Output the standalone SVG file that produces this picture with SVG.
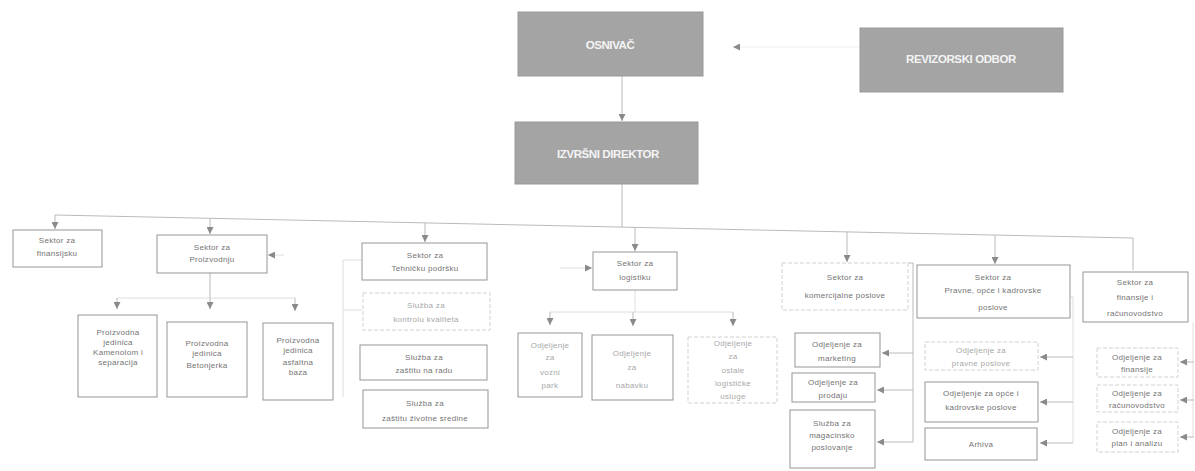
<svg xmlns="http://www.w3.org/2000/svg" width="1195" height="471" viewBox="0 0 1195 471">
<style>
.top{fill:#a4a4a4;stroke:#999999;stroke-width:1}
.tt{fill:#f4f4f4;font-family:"Liberation Sans",Arial,sans-serif;font-size:11.5px;font-weight:bold;text-anchor:middle;letter-spacing:-0.4px}
.box{fill:#ffffff;stroke:#959595;stroke-width:1}
.fbox{fill:#ffffff;stroke:#d2d2d2;stroke-width:1;stroke-dasharray:4 2}
.t{fill:#747474;font-family:"Liberation Sans",Arial,sans-serif;font-size:8px;text-anchor:middle;letter-spacing:0.3px}
.ft{fill:#a8a8a8;font-family:"Liberation Sans",Arial,sans-serif;font-size:8px;text-anchor:middle;letter-spacing:0.3px}
.c{fill:none;stroke:#bababa;stroke-width:1}
.cf{fill:none;stroke:#dedede;stroke-width:1}
.cx{fill:none;stroke:#f0f0f0;stroke-width:1}
</style>
<defs>
<marker id="a" viewBox="0 0 10 10" refX="10" refY="5" markerWidth="7" markerHeight="7" markerUnits="userSpaceOnUse" orient="auto">
<path d="M0,0 L10,5 L0,10 z" fill="#8a8a8a"/>
</marker>
</defs>
<rect width="1195" height="471" fill="#ffffff"/>
<g id="connectors">
<path class="cx" d="M860,47 L733,47" marker-end="url(#a)"/>
<path class="c" d="M622,76 L622,121" marker-end="url(#a)"/>
<path class="c" d="M622,184 L622,227"/>
<path class="c" d="M55,215 L1133,238 L1133,270"/>
<path class="c" d="M55,215 L55,229" marker-end="url(#a)"/>
<path class="c" d="M210,218.3 L210,234" marker-end="url(#a)"/>
<path class="c" d="M425,222.9 L425,242" marker-end="url(#a)"/>
<path class="c" d="M635,227.4 L635,251" marker-end="url(#a)"/>
<path class="c" d="M847,231.9 L847,262" marker-end="url(#a)"/>
<path class="c" d="M995,235.1 L995,264" marker-end="url(#a)"/>
<path class="cf" d="M284,255 L268,255" marker-end="url(#a)"/>
<path class="c" d="M210,273 L210,298"/>
<path class="cf" d="M117,298 L295,298"/>
<path class="c" d="M117,298 L117,309" marker-end="url(#a)"/>
<path class="c" d="M210,298 L210,309" marker-end="url(#a)"/>
<path class="c" d="M295,298 L295,311" marker-end="url(#a)"/>
<path class="cf" d="M362,260 L343,260 L343,397 M343,310 L362,310"/>
<path class="cf" d="M560,268 L592,268" marker-end="url(#a)"/>
<path class="cf" d="M635,290 L635,312 M550,312 L733,312"/>
<path class="c" d="M550,312 L550,325" marker-end="url(#a)"/>
<path class="c" d="M633,312 L633,326" marker-end="url(#a)"/>
<path class="c" d="M733,312 L733,326" marker-end="url(#a)"/>
<path class="c" d="M908,263 L913,263 L913,442"/>
<path class="c" d="M913,353 L882,353" marker-end="url(#a)"/>
<path class="c" d="M913,390 L877,390" marker-end="url(#a)"/>
<path class="c" d="M913,442 L877,442" marker-end="url(#a)"/>
<path class="cf" d="M1070,297 L1073,297 L1073,443"/>
<path class="c" d="M1073,357 L1040,357" marker-end="url(#a)"/>
<path class="c" d="M1073,402 L1040,402" marker-end="url(#a)"/>
<path class="c" d="M1073,443 L1040,443" marker-end="url(#a)"/>
<path class="cf" d="M1193,322 L1193,437"/>
<path class="c" d="M1194,362 L1180,362" marker-end="url(#a)"/>
<path class="c" d="M1194,400 L1180,400" marker-end="url(#a)"/>
<path class="c" d="M1194,437 L1180,437" marker-end="url(#a)"/>
</g>
<g id="osnivac"><rect class="top" x="518" y="12" width="185" height="64"/><text class="tt" x="610" y="49">OSNIVAČ</text></g>
<g id="revizorski-odbor"><rect class="top" x="860" y="28" width="203" height="64"/><text class="tt" x="961" y="63">REVIZORSKI ODBOR</text></g>
<g id="izvrsni-direktor"><rect class="top" x="515" y="122" width="183" height="62"/><text class="tt" x="608" y="158">IZVRŠNI DIREKTOR</text></g>

<g id="s-finansijsku"><rect class="box" x="13" y="230" width="89" height="37"/><text class="t"><tspan x="57" y="243">Sektor za</tspan><tspan x="57" y="256">finansijsku</tspan></text></g>
<g id="s-proizvodnju"><rect class="box" x="157" y="235" width="110" height="38"/><text class="t"><tspan x="212" y="250">Sektor za</tspan><tspan x="212" y="262">Proizvodnju</tspan></text></g>
<g id="s-tehnicku"><rect class="box" x="362" y="243" width="125" height="37"/><text class="t"><tspan x="425" y="258">Sektor za</tspan><tspan x="425" y="271">Tehničku podršku</tspan></text></g>
<g id="s-logistiku"><rect class="box" x="593" y="252" width="84" height="38"/><text class="t"><tspan x="635" y="266">Sektor za</tspan><tspan x="635" y="280">logistiku</tspan></text></g>
<g id="s-komercijalne"><rect class="fbox" x="782" y="263" width="126" height="47"/><text class="t"><tspan x="845" y="280">Sektor za</tspan><tspan x="845" y="298">komercijalne poslove</tspan></text></g>
<g id="s-pravne"><rect class="box" x="917" y="265" width="153" height="53"/><text class="t"><tspan x="993" y="280">Sektor za</tspan><tspan x="993" y="293">Pravne, opće i kadrovske</tspan><tspan x="993" y="310">poslove</tspan></text></g>
<g id="s-finansije"><rect class="box" x="1083" y="272" width="105" height="50"/><text class="t"><tspan x="1135" y="285">Sektor za</tspan><tspan x="1135" y="300">finansije i</tspan><tspan x="1135" y="316">računovodstvo</tspan></text></g>

<g id="pj-kamenolom"><rect class="box" x="78" y="315" width="79" height="82"/><text class="t"><tspan x="118" y="335">Proizvodna</tspan><tspan x="118" y="345">jedinica</tspan><tspan x="118" y="355">Kamenolom i</tspan><tspan x="118" y="365">separacija</tspan></text></g>
<g id="pj-betonjerka"><rect class="box" x="167" y="322" width="80" height="75"/><text class="t"><tspan x="207" y="346">Proizvodna</tspan><tspan x="207" y="356">jedinica</tspan><tspan x="207" y="368">Betonjerka</tspan></text></g>
<g id="pj-asfaltna"><rect class="box" x="263" y="323" width="70" height="77"/><text class="t"><tspan x="298" y="343">Proizvodna</tspan><tspan x="298" y="353">jedinica</tspan><tspan x="298" y="365">asfaltna</tspan><tspan x="298" y="375">baza</tspan></text></g>

<g id="sl-kontrolu"><rect class="fbox" x="363" y="293" width="127" height="37"/><text class="ft"><tspan x="426" y="308">Služba za</tspan><tspan x="426" y="322">kontrolu kvaliteta</tspan></text></g>
<g id="sl-zastitu-rad"><rect class="box" x="360" y="345" width="127" height="35"/><text class="t"><tspan x="424" y="360">Služba za</tspan><tspan x="424" y="373">zaštitu na radu</tspan></text></g>
<g id="sl-zastitu-sredine"><rect class="box" x="363" y="390" width="125" height="38"/><text class="t"><tspan x="425" y="406">Služba za</tspan><tspan x="425" y="421">zaštitu životne sredine</tspan></text></g>

<g id="o-vozni-park"><rect class="box" x="518" y="333" width="64" height="64"/><text class="ft"><tspan x="550" y="348">Odjeljenje</tspan><tspan x="550" y="360">za</tspan><tspan x="550" y="375">vozni</tspan><tspan x="550" y="388">park</tspan></text></g>
<g id="o-nabavku"><rect class="box" x="592" y="335" width="81" height="65"/><text class="ft"><tspan x="632" y="356">Odjeljenje</tspan><tspan x="632" y="370">za</tspan><tspan x="632" y="388">nabavku</tspan></text></g>
<g id="o-ostale"><rect class="fbox" x="688" y="337" width="89" height="66"/><text class="ft"><tspan x="733" y="346">Odjeljenje</tspan><tspan x="733" y="359">za</tspan><tspan x="733" y="373">ostale</tspan><tspan x="733" y="386">logističke</tspan><tspan x="733" y="399">usluge</tspan></text></g>

<g id="o-marketing"><rect class="box" x="795" y="333" width="85" height="34"/><text class="t"><tspan x="837" y="347">Odjeljenje za</tspan><tspan x="837" y="361">marketing</tspan></text></g>
<g id="o-prodaju"><rect class="box" x="792" y="373" width="83" height="29"/><text class="t"><tspan x="833" y="385">Odjeljenje za</tspan><tspan x="833" y="398">prodaju</tspan></text></g>
<g id="sl-magacinsko"><rect class="box" x="790" y="410" width="85" height="58"/><text class="t"><tspan x="832" y="426">Služba za</tspan><tspan x="832" y="438">magacinsko</tspan><tspan x="832" y="450">poslovanje</tspan></text></g>

<g id="o-pravne"><rect class="fbox" x="925" y="342" width="113" height="28"/><text class="ft"><tspan x="981" y="353">Odjeljenje za</tspan><tspan x="981" y="366">pravne poslove</tspan></text></g>
<g id="o-opce"><rect class="box" x="925" y="382" width="113" height="40"/><text class="t"><tspan x="981" y="396">Odjeljenje za opće i</tspan><tspan x="981" y="410">kadrovske poslove</tspan></text></g>
<g id="arhiva"><rect class="box" x="925" y="428" width="112" height="32"/><text class="t" x="981" y="447">Arhiva</text></g>

<g id="o-fin"><rect class="fbox" x="1097" y="348" width="81" height="29"/><text class="t"><tspan x="1137" y="360">Odjeljenje za</tspan><tspan x="1137" y="372">finansije</tspan></text></g>
<g id="o-racun"><rect class="fbox" x="1097" y="385" width="81" height="27"/><text class="t"><tspan x="1137" y="396">Odjeljenje za</tspan><tspan x="1137" y="408">računovodstvo</tspan></text></g>
<g id="o-plan"><rect class="fbox" x="1097" y="422" width="81" height="30"/><text class="t"><tspan x="1137" y="434">Odjeljenje za</tspan><tspan x="1137" y="446">plan i analizu</tspan></text></g>
</svg>
